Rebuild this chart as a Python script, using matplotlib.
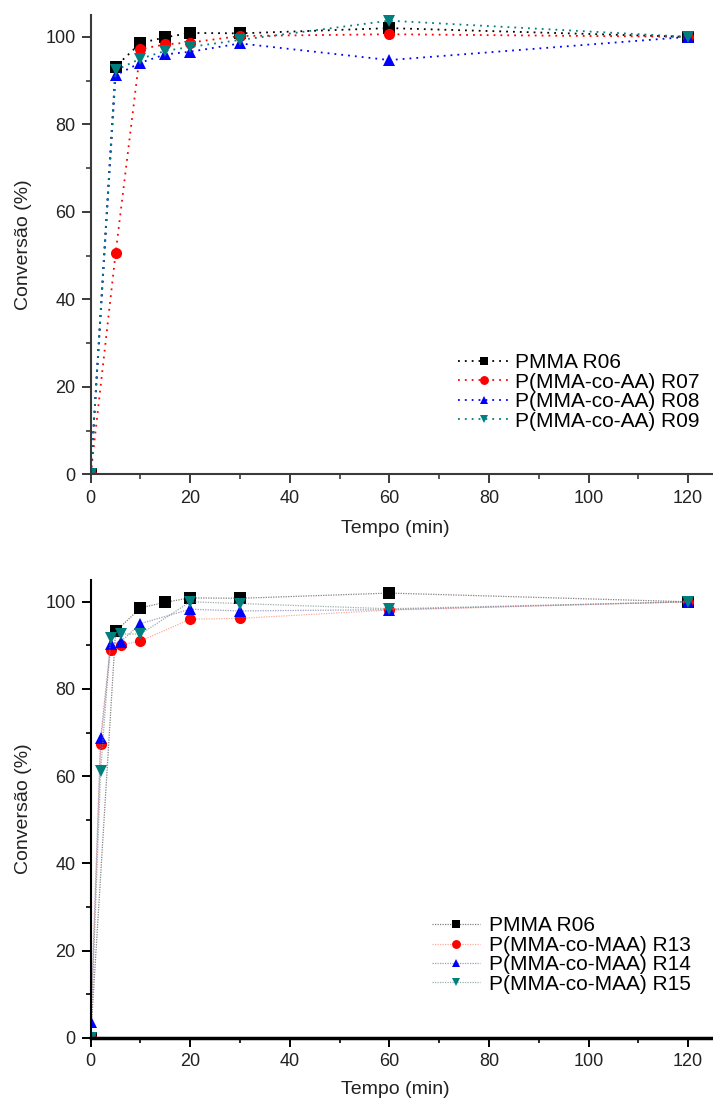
import matplotlib
matplotlib.use("Agg")
import matplotlib.pyplot as plt
from matplotlib.ticker import MultipleLocator

plt.rcParams['font.family'] = ['Liberation Sans', 'DejaVu Sans']

# --- dados ---
tempo = [0, 5, 10, 15, 20, 30, 60, 120]
pmma_r06 = [0, 93.2, 98.6, 99.9, 100.9, 100.8, 102.0, 100.0]
aa_r07 = [0, 50.5, 97.2, 98.3, 98.7, 100.2, 100.6, 100.0]
aa_r08 = [0, 91.2, 94.1, 96.0, 96.6, 98.5, 94.7, 100.0]
aa_r09 = [0, 92.4, 95.0, 96.8, 97.7, 99.3, 103.7, 100.0]

tempo_maa = [0, 2, 4, 6, 10, 20, 30, 60, 120]
maa_r13 = [0, 67.4, 88.9, 90.1, 91.0, 96.0, 96.2, 98.1, 100.0]
maa_r14 = [3.7, 68.7, 90.4, 90.8, 95.0, 98.3, 97.9, 98.2, 100.0]
maa_r15 = [0, 61.2, 91.6, 92.6, 92.6, 100.0, 99.6, 98.4, 100.0]

labels_aa = ["PMMA R06", "P(MMA-co-AA) R07", "P(MMA-co-AA) R08", "P(MMA-co-AA) R09"]
labels_maa = ["PMMA R06", "P(MMA-co-MAA) R13", "P(MMA-co-MAA) R14", "P(MMA-co-MAA) R15"]

cores = ["black", "#ff0000", "#0000ff", "#007f7f"]
cores_linha = [(0.3, 0.3, 0.3, 0.7), (1.0, 0.45, 0.35, 0.6),
               (0.45, 0.45, 0.7, 0.7), (0.45, 0.55, 0.55, 0.7)]
marcadores = ["s", "o", "^", "v"]

W, H = 713, 1106
fig = plt.figure(figsize=(W / 100, H / 100), dpi=100)

ax1 = fig.add_axes([90.7 / W, 1 - 474.3 / H, 622.3 / W, 459.3 / H])
ax2 = fig.add_axes([90.7 / W, 1 - 1037.7 / H, 622.3 / W, 457.7 / H])


def estilo(ax, spine_color, xw):
    ax.set_xlim(0, 125)
    ax.set_ylim(0, 105)
    ax.xaxis.set_major_locator(MultipleLocator(20))
    ax.xaxis.set_minor_locator(MultipleLocator(10))
    ax.yaxis.set_major_locator(MultipleLocator(20))
    ax.yaxis.set_minor_locator(MultipleLocator(10))
    for s in ["top", "right"]:
        ax.spines[s].set_visible(False)
    ax.spines["left"].set_color(spine_color)
    ax.spines["left"].set_linewidth(1.5)
    ax.spines["bottom"].set_color(spine_color)
    ax.spines["bottom"].set_linewidth(xw)
    ax.tick_params(which="major", direction="out", length=6.5, width=1.4,
                   color=spine_color, labelsize=13, pad=4.5,
                   labelcolor="#222222")
    ax.tick_params(which="minor", direction="out", length=3.6, width=1.2,
                   color=spine_color)
    ax.set_xlabel("Tempo (min)", fontsize=14, color="#222222")
    ax.set_ylabel("Conversão (%)", fontsize=14, color="#222222")
    ax.yaxis.set_label_coords(-0.095, 0.5)


# painel superior: AA
series_aa = [pmma_r06, aa_r07, aa_r08, aa_r09]
for y, c, m, lab in zip(series_aa, cores, marcadores, labels_aa):
    ax1.plot(tempo, y, linestyle=(0, (1, 2.8)), linewidth=1.3, color=c,
             marker=m, markersize=8, markeredgewidth=0, label=lab)
estilo(ax1, "#3a3a3a", 1.5)
ax1.xaxis.set_label_coords(0.49, -0.10)
ax1.legend(loc="center left", bbox_to_anchor=(458 / W, 1 - 392 / H),
           bbox_transform=fig.transFigure, frameon=False, fontsize=15,
           handlelength=2.5, handletextpad=0.25, labelspacing=0.02,
           borderpad=0, borderaxespad=0, markerscale=0.8)

# painel inferior: MAA
tempos_maa = [tempo, tempo_maa, tempo_maa, tempo_maa]
series_maa = [pmma_r06, maa_r13, maa_r14, maa_r15]
for t, y, c, cl, m, lab in zip(tempos_maa, series_maa, cores, cores_linha,
                               marcadores, labels_maa):
    ax2.plot(t, y, linestyle=(0, (1, 1)), linewidth=0.9, color=cl,
             marker=m, markersize=8, markeredgewidth=0,
             markerfacecolor=c, label=lab)
estilo(ax2, "black", 2.5)
ax2.xaxis.set_label_coords(0.49, -0.095)
ax2.legend(loc="center left", bbox_to_anchor=(432 / W, 1 - 955 / H),
           bbox_transform=fig.transFigure, frameon=False, fontsize=15,
           handlelength=2.3, handletextpad=0.45, labelspacing=0.02,
           borderpad=0, borderaxespad=0, markerscale=0.8)

fig.savefig("out.png", dpi=100, facecolor="white")
